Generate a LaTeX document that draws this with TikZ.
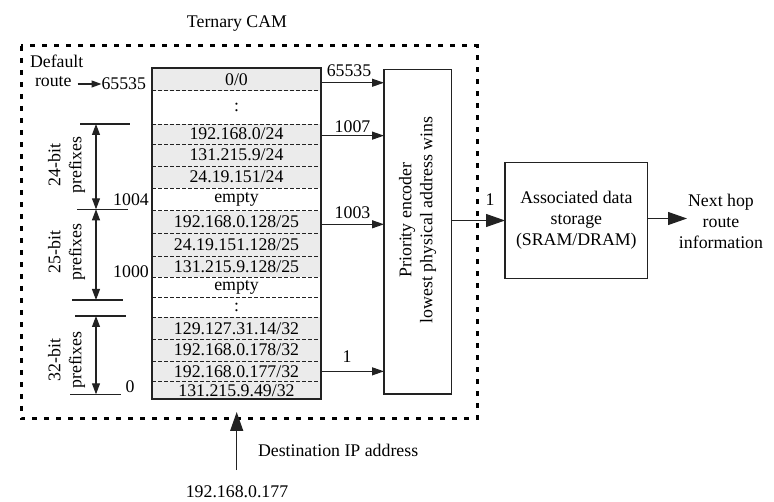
\documentclass[tikz,border=0pt]{standalone}
\usepackage{fontspec}
\setmainfont{Liberation Serif}
\usetikzlibrary{arrows.meta}
\definecolor{cellgrey}{HTML}{EBEBEB}
\definecolor{ink}{HTML}{222222}
\newcommand\camrow[5]{\node[camrow, fill=#4, minimum height={(#3-#2)*1pt}] (#1) at (236.5,{(#2+#3)/2}) {#5};}
\begin{document}
\begin{tikzpicture}[x=1pt,y=-1pt,
  every node/.style={font=\fontsize{17.8}{21}\selectfont, inner sep=0pt, outer sep=0pt},
  camrow/.style={minimum width=169pt, draw=none},
  divider/.style={draw=ink, line width=0.8pt, dash pattern=on 4pt off 2pt},
  tableborder/.style={draw=ink, line width=1.4pt},
  boxstyle/.style={draw=ink, line width=1.3pt},
  smallarrow/.style={draw=ink, line width=1.2pt, -{Triangle[length=12pt,width=8pt]}},
  bigarrow/.style={draw=ink, line width=1.2pt, -{Triangle[length=19pt,width=13pt]}},
  dimarrow/.style={draw=ink, line width=1.1pt, {Triangle[length=11pt,width=8pt]}-{Triangle[length=11pt,width=8pt]}},
  tick/.style={draw=ink, line width=1.1pt},
  camframe/.style={line width=3pt, dash pattern=on 5pt off 7pt}
]
\useasboundingbox (0,0) rectangle (774,502);

% title
\node (title) at (237,24) {Ternary CAM};

% dashed frame
\draw[camframe] (21,46) rectangle (477,419);

% CAM rows
\camrow{r1}{68}{90.7}{cellgrey}{0/0}
\camrow{r2}{90.7}{124}{white}{:}
\camrow{r3}{124}{144.3}{cellgrey}{192.168.0/24}
\camrow{r4}{144.3}{166}{cellgrey}{131.215.9/24}
\camrow{r5}{166}{188.3}{cellgrey}{24.19.151/24}
\camrow{r6}{188.3}{210.7}{white}{empty}
\camrow{r7}{210.7}{233.3}{cellgrey}{192.168.0.128/25}
\camrow{r8}{233.3}{256}{cellgrey}{24.19.151.128/25}
\camrow{r9}{256}{277.3}{cellgrey}{131.215.9.128/25}
\camrow{r10}{277.3}{297.3}{white}{empty}
\camrow{r11}{297.3}{317.3}{white}{:}
\camrow{r12}{317.3}{339.3}{cellgrey}{129.127.31.14/32}
\camrow{r13}{339.3}{361}{cellgrey}{192.168.0.178/32}
\camrow{r14}{361}{381.7}{cellgrey}{192.168.0.177/32}
\camrow{r15}{381.7}{399}{cellgrey}{131.215.9.49/32}
\foreach \r in {1,...,14}{\draw[divider] (r\r.south west) -- (r\r.south east);}
\draw[tableborder] (r1.north west) rectangle (r15.south east);

% priority encoder
\node[boxstyle, minimum width=67.7pt, minimum height=324.7pt] (enc) at (417.85,231.65) {};
\node[rotate=90, align=center] (enctext) at (417.5,220) {Priority encoder\\lowest physical address wins};

% arrows from CAM to encoder
\draw[smallarrow] ([yshift=-3.4pt]r1.east) -- ([yshift=-3.4pt]r1.east -| enc.west);
\node (l65535b) at (349,71) {65535};
\draw[smallarrow] ([yshift=-1.5pt]r3.east) -- ([yshift=-1.5pt]r3.east -| enc.west);
\node (l1007) at (352.5,127) {1007};
\draw[smallarrow] ([yshift=-2.3pt]r7.east) -- ([yshift=-2.3pt]r7.east -| enc.west);
\node (l1003) at (352.5,213) {1003};
\draw[smallarrow] (r14.east) -- (r14.east -| enc.west);
\node (l1) at (347,357) {1};

% associated data storage
\node[boxstyle, minimum width=142.7pt, minimum height=115.6pt, align=center] (assoc) at (576.35,220.5) {Associated data\\storage\\(SRAM/DRAM)};
\draw[bigarrow] (assoc.west -| enc.east) -- (assoc.west);
\node (l1out) at (490,200) {1};

% next hop
\node[align=center] (next) at (721,221) {Next hop\\route\\information};
\coordinate (nhin) at (687,218.5);
\draw[bigarrow] (assoc.east |- nhin) -- (nhin);

% destination
\node (ip) at (237,491.7) {192.168.0.177};
\coordinate (ipstart) at (236.7,470);
\coordinate (camin) at (236.7,412);
\draw[bigarrow] (ipstart) -- (camin);
\node[anchor=west] (dstlabel) at (258,450) {Destination IP address};

% default route
\node[anchor=west] (default) at (30,61) {Default};
\node[anchor=west] (route) at (35,82) {route};
\node[anchor=west] (d65535) at (101.5,84) {65535};
\draw[draw=ink, line width=1.2pt, -{Triangle[length=10pt,width=7pt]}] (route.east |- d65535.west) ++(6,0) -- (d65535.west);

% dimension lines
\coordinate (t24a) at (80,124);   \coordinate (t24b) at (130,124);
\coordinate (b24a) at (77,209.3); \coordinate (b24b) at (128,209.3);
\coordinate (b25a) at (72,300);   \coordinate (b25b) at (123,300);
\coordinate (t32a) at (75,316);   \coordinate (t32b) at (126,316);
\coordinate (b32a) at (70,394.3); \coordinate (b32b) at (121,394.3);
\foreach \p in {t24,b24,b25,t32,b32}{\draw[tick] (\p a) -- (\p b);}
\draw[dimarrow] (96,124) -- (96,209.3);
\draw[dimarrow] (96,209.3) -- (96,300);
\draw[dimarrow] (96,316) -- (96,394.3);

\node (l1004) at (131,200) {1004};
\node (l1000) at (131,271.5) {1000};
\node (l0) at (130,386.7) {0};

\node[rotate=90, align=center] (p24) at (66.5,165) {24-bit\\prefixes};
\node[rotate=90, align=center] (p25) at (66.5,252) {25-bit\\prefixes};
\node[rotate=90, align=center] (p32) at (66.5,360) {32-bit\\prefixes};
\end{tikzpicture}
\end{document}
